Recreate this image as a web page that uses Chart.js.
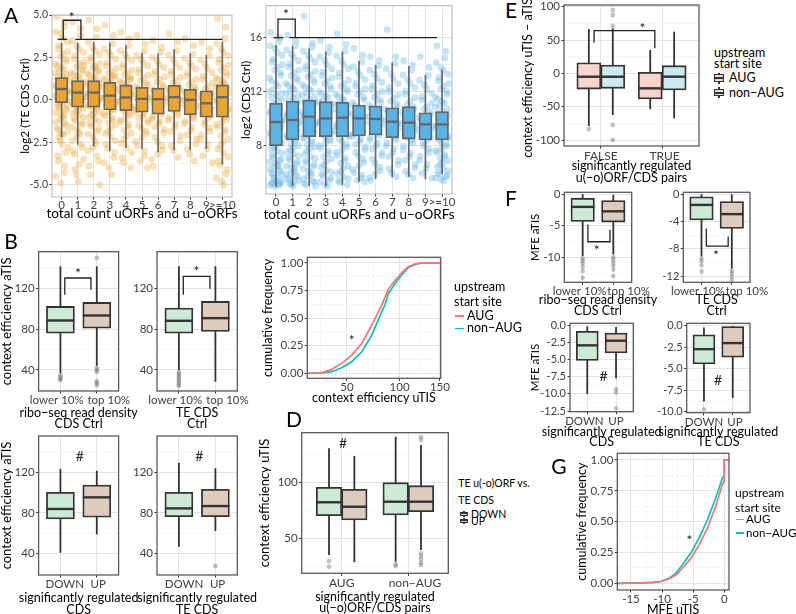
<!DOCTYPE html>
<html><head><meta charset="utf-8">
<script src="https://cdn.jsdelivr.net/npm/chart.js@4.4.1/dist/chart.umd.min.js"></script>
<style>
html,body{margin:0;padding:0;width:796px;height:614px;overflow:hidden;background:#fff;font-family:Lato,'Open Sans',sans-serif;}
canvas{position:absolute;}
.t{position:absolute;white-space:nowrap;color:#000;line-height:1;}
</style></head><body>
<script>
const FONT = "Lato, 'Open Sans', sans-serif";

// ---------------- data ----------------
const A_CATS = ['0','1','2','3','4','5','6','7','8','9','>=10'];
const A_TE_Q1  = [-0.16,-0.43,-0.43,-0.59,-0.64,-0.72,-0.84,-0.68,-0.88,-1.02,-1.02];
const A_TE_MED = [0.64,0.43,0.43,0.25,0.14,0.06,0.04,0.16,0.0,-0.2,0.16];
const A_TE_Q3  = [1.31,1.13,1.13,1.04,0.88,0.74,0.70,0.86,0.62,0.53,0.88];
const A_TE_LO  = [-2.19,-2.64,-2.73,-3.03,-2.83,-2.89,-3.09,-2.97,-2.97,-2.89,-3.81];
const A_TE_HI  = [3.36,3.36,3.42,3.36,3.22,2.77,2.73,2.99,2.73,2.64,3.42];
const A_CDS_Q1  = [8.0,8.42,8.67,8.67,8.67,8.72,8.79,8.59,8.49,8.42,8.42];
const A_CDS_MED = [9.75,9.9,10.15,10.02,10.07,10.02,9.98,9.78,9.70,9.58,9.58];
const A_CDS_Q3  = [11.14,11.31,11.38,11.26,11.21,11.01,10.94,10.81,10.89,10.44,10.52];
const A_CDS_LO  = [4.96,5.01,5.01,5.01,5.09,5.33,5.53,5.65,5.70,5.51,5.9];
const A_CDS_HI  = [15.46,15.38,15.21,14.96,14.96,14.27,13.98,14.15,13.90,13.23,13.60];
const JITTER  = [-0.31,0.17,-0.06,0.36,-0.22,0.08,0.28,-0.39,0.01,-0.15,0.32,-0.27,0.12,-0.1,0.23,-0.35,0.04,0.39,-0.19,0.25,-0.02,-0.29,0.15,0.34,-0.12,0.06,-0.24,0.3,-0.37,0.1,-0.08,0.2,-0.3,0.37,-0.17,0.03,0.26,-0.22,0.18,-0.04];
const JITTER2 = [0.22,-0.35,0.07,-0.18,0.38,-0.08,0.3,-0.26,0.14,-0.4,0.02,0.33,-0.13,0.2,-0.32,0.1,-0.21,0.36,-0.03,0.27,-0.38,0.16,-0.11,0.04,-0.28,0.35,-0.16,0.24,-0.05,0.12,-0.34,0.29,-0.2,0.08,-0.09,0.39,-0.25,0.19,-0.36,0.0];
const A_TE_CLOUD = [
 [4.9,4.3,3.9,3.4,3.0,2.7,2.4,2.1,1.9,1.7,1.5,1.35,1.2,1.05,0.9,0.8,0.7,0.6,0.5,0.4,0.3,0.2,0.1,0.0,-0.1,-0.25,-0.4,-0.55,-0.75,-0.95,-1.15,-1.4,-1.65,-1.9,-2.2,-2.6,-3.1,-3.6,-4.3,-4.9],
 [4.6,3.8,3.2,2.8,2.4,2.1,1.8,1.6,1.4,1.2,1.05,0.9,0.75,0.6,0.5,0.4,0.3,0.2,0.1,0.0,-0.1,-0.2,-0.35,-0.5,-0.7,-0.9,-1.1,-1.35,-1.6,-1.9,-2.2,-2.6,-3.0,-3.5,-4.1,-4.8],
 [4.7,3.7,3.1,2.7,2.3,2.0,1.75,1.55,1.35,1.15,1.0,0.85,0.7,0.55,0.45,0.35,0.25,0.15,0.05,-0.05,-0.2,-0.35,-0.5,-0.7,-0.9,-1.15,-1.4,-1.7,-2.0,-2.4,-2.8,-3.3,-3.9,-5.0],
 [4.4,3.3,2.8,2.4,2.0,1.7,1.45,1.25,1.05,0.85,0.7,0.55,0.4,0.3,0.2,0.1,0.0,-0.15,-0.3,-0.5,-0.7,-0.95,-1.2,-1.5,-1.85,-2.2,-2.6,-3.1,-3.7,-4.4],
 [4.0,3.2,2.7,2.3,1.9,1.6,1.35,1.1,0.9,0.7,0.55,0.4,0.25,0.15,0.05,-0.1,-0.25,-0.4,-0.6,-0.8,-1.05,-1.3,-1.6,-1.95,-2.3,-2.8,-3.4,-4.0],
 [3.8,2.9,2.4,2.0,1.6,1.3,1.0,0.8,0.6,0.4,0.2,0.05,-0.1,-0.3,-0.5,-0.7,-0.95,-1.2,-1.5,-1.85,-2.2,-2.7,-3.3,-4.0],
 [3.5,2.8,2.3,1.9,1.5,1.2,0.9,0.65,0.45,0.25,0.05,-0.15,-0.35,-0.6,-0.85,-1.1,-1.4,-1.75,-2.2,-2.7,-3.2,-3.9],
 [3.9,2.9,2.4,1.9,1.5,1.15,0.85,0.6,0.4,0.2,0.05,-0.15,-0.35,-0.6,-0.9,-1.2,-1.6,-2.1,-2.7,-3.4],
 [3.6,2.7,2.2,1.8,1.4,1.05,0.75,0.5,0.3,0.1,-0.1,-0.3,-0.55,-0.8,-1.1,-1.4,-1.8,-2.3,-2.9,-3.6],
 [3.4,2.6,2.1,1.6,1.2,0.8,0.5,0.25,0.0,-0.25,-0.5,-0.8,-1.1,-1.45,-1.85,-2.3,-2.9,-3.7],
 [4.8,3.6,3.0,2.6,2.2,1.9,1.6,1.3,1.1,0.9,0.7,0.5,0.35,0.2,0.05,-0.1,-0.3,-0.5,-0.75,-1.0,-1.3,-1.6,-1.9,-2.3,-2.7,-3.1,-3.6,-4.1,-4.6,-5.0]
];
const A_TE_CLOUD2 = [
 [4.6,4.0,3.6,3.2,2.85,2.55,2.25,2.0,1.8,1.6,1.42,1.28,1.12,0.98,0.85,0.75,0.65,0.55,0.45,0.35,0.25,0.15,0.05,-0.05,-0.18,-0.32,-0.48,-0.65,-0.85,-1.05,-1.28,-1.52,-1.78,-2.05,-2.4,-2.8,-3.3,-3.9,-4.5,-2.0],
 [4.2,3.5,3.0,2.6,2.25,1.95,1.7,1.5,1.3,1.12,0.98,0.82,0.68,0.55,0.45,0.35,0.25,0.15,0.05,-0.05,-0.15,-0.28,-0.42,-0.6,-0.8,-1.0,-1.22,-1.48,-1.75,-2.05,-2.4,-2.8,-3.2,-3.8,-4.4,2.0],
 [4.2,3.4,2.9,2.5,2.15,1.88,1.65,1.45,1.25,1.08,0.92,0.78,0.62,0.5,0.4,0.3,0.2,0.1,0.0,-0.12,-0.28,-0.42,-0.6,-0.8,-1.02,-1.28,-1.55,-1.85,-2.2,-2.6,-3.0,-3.6,-4.4,1.9],
 [3.8,3.0,2.6,2.2,1.85,1.58,1.35,1.15,0.95,0.78,0.62,0.48,0.35,0.25,0.15,0.05,-0.08,-0.22,-0.4,-0.6,-0.82,-1.08,-1.35,-1.68,-2.0,-2.4,-2.85,-3.4,-4.0,1.4],
 [3.6,2.9,2.5,2.1,1.75,1.48,1.22,1.0,0.8,0.62,0.48,0.32,0.2,0.1,0.0,-0.18,-0.32,-0.5,-0.7,-0.92,-1.18,-1.45,-1.78,-2.12,-2.55,-3.1,-3.7,1.2],
 [3.3,2.6,2.2,1.8,1.45,1.15,0.9,0.7,0.5,0.3,0.12,-0.02,-0.2,-0.4,-0.6,-0.82,-1.08,-1.35,-1.68,-2.0,-2.45,-3.0,-3.6,0.4],
 [3.1,2.5,2.1,1.7,1.35,1.05,0.78,0.55,0.35,0.15,-0.05,-0.25,-0.48,-0.72,-0.98,-1.25,-1.58,-1.95,-2.45,-2.95,-3.5,0.3],
 [3.4,2.65,2.15,1.7,1.32,1.0,0.72,0.5,0.3,0.12,-0.05,-0.25,-0.48,-0.75,-1.05,-1.4,-1.85,-2.4,-3.0,0.6],
 [3.2,2.45,2.0,1.6,1.22,0.9,0.62,0.4,0.2,0.0,-0.2,-0.42,-0.68,-0.95,-1.25,-1.6,-2.05,-2.6,-3.2,0.5],
 [3.0,2.35,1.85,1.4,1.0,0.65,0.38,0.12,-0.12,-0.38,-0.65,-0.95,-1.28,-1.65,-2.05,-2.6,-3.3,0.2],
 [4.3,3.3,2.8,2.4,2.05,1.75,1.45,1.2,1.0,0.8,0.6,0.42,0.28,0.12,-0.02,-0.2,-0.4,-0.62,-0.88,-1.15,-1.45,-1.75,-2.1,-2.5,-2.9,-3.35,-3.85,-4.35,-4.8,0.9]
];
const A_CDS_CLOUD = [
 [16.4,15.7,15.2,14.7,14.2,13.8,13.4,13.0,12.6,12.2,11.9,11.6,11.3,11.0,10.7,10.4,10.1,9.9,9.7,9.4,9.1,8.8,8.5,8.2,7.9,7.6,7.3,7.0,6.8,6.6,6.4,6.2,6.0,5.8,5.6,5.4,5.3,5.2,5.1,5.0],
 [16.2,15.4,14.8,14.3,13.8,13.4,13.0,12.6,12.3,12.0,11.7,11.4,11.1,10.8,10.5,10.2,10.0,9.8,9.5,9.2,8.9,8.6,8.3,8.0,7.7,7.4,7.1,6.8,6.5,6.3,6.0,5.8,5.6,5.4,5.2,5.0],
 [17.6,15.3,14.7,14.2,13.7,13.3,12.9,12.5,12.2,11.9,11.6,11.3,11.0,10.7,10.4,10.2,10.0,9.7,9.4,9.1,8.8,8.5,8.2,7.9,7.6,7.2,6.9,6.6,6.3,6.0,5.7,5.4,5.2,5.0],
 [15.8,14.9,14.3,13.7,13.2,12.8,12.4,12.0,11.7,11.4,11.1,10.8,10.5,10.2,10.0,9.7,9.4,9.1,8.8,8.5,8.2,7.8,7.4,7.0,6.6,6.2,5.9,5.6,5.3,5.0],
 [16.3,15.0,14.3,13.7,13.1,12.6,12.2,11.8,11.5,11.2,10.9,10.6,10.3,10.0,9.7,9.4,9.1,8.8,8.5,8.1,7.7,7.3,6.9,6.5,6.1,5.7,5.4,5.1],
 [15.2,14.2,13.5,12.9,12.4,12.0,11.6,11.2,10.8,10.5,10.2,9.9,9.6,9.3,9.0,8.7,8.3,7.9,7.5,7.0,6.5,6.0,5.6,5.3],
 [14.6,13.9,13.3,12.7,12.2,11.8,11.4,11.0,10.6,10.3,10.0,9.7,9.4,9.1,8.8,8.4,8.0,7.5,7.0,6.4,5.9,5.4],
 [16.6,14.1,13.3,12.6,12.0,11.5,11.1,10.7,10.3,10.0,9.7,9.4,9.1,8.8,8.4,8.0,7.5,6.9,6.3,5.7],
 [14.3,13.6,12.9,12.3,11.8,11.3,10.9,10.5,10.1,9.8,9.5,9.2,8.9,8.6,8.2,7.7,7.2,6.6,6.1,5.6],
 [14.6,13.2,12.5,11.9,11.4,10.9,10.5,10.1,9.7,9.4,9.1,8.8,8.4,8.0,7.5,6.9,6.3,5.6],
 [15.4,14.5,13.8,13.3,12.8,12.4,12.0,11.6,11.3,11.0,10.7,10.4,10.1,9.8,9.6,9.3,9.0,8.7,8.4,8.1,7.8,7.5,7.2,6.9,6.6,6.3,6.0,5.8,5.6,5.4]
];
const A_CDS_CLOUD2 = [
 [16.0,15.4,14.9,14.4,14.0,13.6,13.2,12.8,12.4,12.0,11.75,11.45,11.15,10.85,10.55,10.25,10.0,9.8,9.55,9.25,8.95,8.65,8.35,8.05,7.75,7.45,7.15,6.9,6.7,6.5,6.3,6.1,5.9,5.7,5.5,5.35,5.25,5.15,5.05,9.0],
 [15.8,15.1,14.55,14.05,13.6,13.2,12.8,12.45,12.15,11.85,11.55,11.25,10.95,10.65,10.35,10.1,9.9,9.65,9.35,9.05,8.75,8.45,8.15,7.85,7.55,7.25,6.95,6.65,6.4,6.15,5.9,5.7,5.5,5.3,5.1,10.5],
 [15.6,15.0,14.45,13.95,13.5,13.1,12.7,12.35,12.05,11.75,11.45,11.15,10.85,10.55,10.3,10.1,9.85,9.55,9.25,8.95,8.65,8.35,8.05,7.75,7.4,7.05,6.75,6.45,6.15,5.85,5.55,5.3,5.1,10.6],
 [15.3,14.6,14.0,13.45,13.0,12.6,12.2,11.85,11.55,11.25,10.95,10.65,10.35,10.1,9.85,9.55,9.25,8.95,8.65,8.35,8.0,7.6,7.2,6.8,6.4,6.05,5.75,5.45,5.15,10.4],
 [15.5,14.65,14.0,13.4,12.85,12.4,12.0,11.65,11.35,11.05,10.75,10.45,10.15,9.85,9.55,9.25,8.95,8.65,8.3,7.9,7.5,7.1,6.7,6.3,5.9,5.55,5.25,10.3],
 [14.7,13.85,13.2,12.65,12.2,11.8,11.4,11.0,10.65,10.35,10.05,9.75,9.45,9.15,8.85,8.5,8.1,7.7,7.25,6.75,6.25,5.8,5.45,10.1],
 [14.3,13.6,13.0,12.45,12.0,11.6,11.2,10.8,10.45,10.15,9.85,9.55,9.25,8.95,8.6,8.2,7.75,7.25,6.7,6.15,5.65,10.2],
 [14.6,13.7,12.95,12.3,11.75,11.3,10.9,10.5,10.15,9.85,9.55,9.25,8.95,8.6,8.2,7.75,7.2,6.6,6.0,9.6],
 [14.0,13.25,12.6,12.05,11.55,11.1,10.7,10.3,9.95,9.65,9.35,9.05,8.75,8.4,7.95,7.45,6.9,6.35,5.85,9.7],
 [13.8,12.85,12.2,11.65,11.15,10.7,10.3,9.9,9.55,9.25,8.95,8.6,8.2,7.75,7.2,6.6,5.95,9.5],
 [15.0,14.15,13.55,13.05,12.6,12.2,11.8,11.45,11.15,10.85,10.55,10.25,9.95,9.7,9.45,9.15,8.85,8.55,8.25,7.95,7.65,7.35,7.05,6.75,6.45,6.15,5.9,5.7,5.5,9.9]
];

const B_TOP_CATS = ['lower 10%','top 10%'];
const B_BOT_CATS = ['DOWN','UP'];
const B1_Q1 = [76.1,81.0], B1_MED = [88.5,93.4], B1_Q3 = [102.3,106.2], B1_LO = [36.8,44.0], B1_HI = [141.6,141.6];
const B1_OUT = [[35,33,31,30],[150,42,40,38,29,27,25]];
const B2_Q1 = [76.1,77.7], B2_MED = [88.2,90.8], B2_Q3 = [100.7,107.2], B2_LO = [40.0,28.5], B2_HI = [141.6,141.6];
const B2_OUT = [[38,36,34,32,30,28,26,24],[]];
const B3_Q1 = [73.9,75.6], B3_MED = [83.8,95.3], B3_Q3 = [100.2,107.5], B3_LO = [40.6,58.8], B3_HI = [123.3,121.6];
const B3_OUT = [[],[]];
const B4_Q1 = [76.2,76.2], B4_MED = [84.4,86.7], B4_Q3 = [100.2,103.2], B4_LO = [46.5,62.0], B4_HI = [129.5,124.0];
const B4_OUT = [[],[27.5]];

const C_SERIES = ['AUG','non−AUG'];
const C_X   = [23,32,38.7,45.9,53.8,62.3,71.4,81.1,84.4,87.8,94.9,102.3,109.9,117.9,126.1,151];
const C_AUG = [0,0.005,0.036,0.09,0.165,0.27,0.437,0.617,0.69,0.76,0.84,0.91,0.964,0.988,1,1];
const C_NON = [0,0.003,0.015,0.05,0.105,0.195,0.346,0.557,0.62,0.72,0.81,0.89,0.955,0.985,1,1];

const D_CATS = ['AUG','non−AUG'];
const D_GROUPS = ['DOWN','UP'];
const D_DOWN_Q1 = [70.4,71.0], D_DOWN_MED = [82.4,82.9], D_DOWN_Q3 = [95.9,100.0], D_DOWN_LO = [35.0,29.0], D_DOWN_HI = [130.9,141.3];
const D_UP_Q1 = [66.5,74.0], D_UP_MED = [78.4,82.9], D_UP_Q3 = [94.1,97.3], D_UP_LO = [28.5,39.5], D_UP_HI = [124.0,133.9];
const D_DOWN_OUT = [[29.6,24.5],[27,25]];
const D_UP_OUT = [[],[141,138.5,36.5,34,31,28,26]];

const E_CATS = ['FALSE','TRUE'];
const E_GROUPS = ['AUG','non−AUG'];
const E_AUG_Q1 = [-23.6,-38.5], E_AUG_MED = [-5.1,-22.5], E_AUG_Q3 = [15.9,1.5], E_AUG_LO = [-79,-54], E_AUG_HI = [66.5,35];
const E_NON_Q1 = [-22.5,-25], E_NON_MED = [-5.1,-5], E_NON_Q3 = [12.5,11.5], E_NON_LO = [-62.5,-67.5], E_NON_HI = [67.5,62.5];
const E_AUG_OUT = [[-83.5],[]];
const E_NON_OUT = [[95,87.5,71,-77.5,-100],[]];

const F1_Q1 = [-4.3,-4.4], F1_MED = [-2.0,-2.7], F1_Q3 = [-0.63,-1.0], F1_LO = [-9.75,-9.5], F1_HI = [0,-0.1];
const F1_OUT = [[-10.1,-10.5,-10.9,-11.4,-12.1,-13.2],[-9.9,-10.3,-10.8,-11.3,-11.9,-12.9]];
const F2_Q1 = [-3.75,-5.0], F2_MED = [-1.55,-2.9], F2_Q3 = [-0.35,-1.05], F2_LO = [-9.1,-10.9], F2_HI = [0,0];
const F2_OUT = [[-9.4,-9.8,-10.4,-11.3],[-11.2,-11.6,-12.1,-12.6]];
const F3_Q1 = [-5.1,-3.99], F3_MED = [-2.88,-2.2], F3_Q3 = [-0.83,-1.07], F3_LO = [-10.0,-7.7], F3_HI = [-0.1,-0.2];
const F3_OUT = [[],[-9.3,-9.8,-12.1]];
const F4_Q1 = [-4.42,-3.65], F4_MED = [-2.71,-2.0], F4_Q3 = [-1.05,-0.08], F4_LO = [-8.8,-8.4], F4_HI = [-0.2,0];
const F4_OUT = [[-9.7],[]];

const G_X   = [-17.2,-13.1,-11.5,-10.2,-8.9,-7.8,-6.75,-5.4,-4.07,-2.73,-1.39,-0.32,0,0,0.76];
const G_AUG = [0,0.003,0.008,0.015,0.035,0.067,0.12,0.2,0.31,0.446,0.62,0.80,0.83,1,1];
const G_NON = [0,0.003,0.008,0.015,0.04,0.08,0.148,0.243,0.365,0.513,0.69,0.85,0.875,1,1];

// tick label lists
const A_TE_YT = [-5,-2.5,0,2.5,5], A_TE_YM = [-3.75,-1.25,1.25,3.75];
const A_CDS_YT = [8,12,16], A_CDS_YM = [6,10,14,18];
const B_YT = [40,80,120], B_YM = [20,60,100,140];
const CUM_YT = [0,0.25,0.5,0.75,1], CUM_YM = [0.125,0.375,0.625,0.875];
const C_XT = [50,100,150];
const D_YT = [50,100], D_YM = [25,75,125];
const E_YT = [-100,-50,0,50,100], E_YM = [-75,-25,25,75];
const F1_YT = [0,-5,-10], F1_YM = [-2.5,-7.5,-12.5];
const F2_YT = [0,-4,-8,-12], F2_YM = [-2,-6,-10];
const F3_YT = [0,-2.5,-5,-7.5,-10,-12.5], F3_YM = [-1.25,-3.75,-6.25,-8.75,-11.25];
const F4_YT = [0,-2.5,-5,-7.5,-10], F4_YM = [-1.25,-3.75,-6.25,-8.75];
const G_XT = [-15,-10,-5,0], G_XM = [-12.5,-7.5,-2.5];

// ---------------- colours ----------------
const GREEN = '#CDEAD6', TAN = '#DDCBBD', PINK = '#F9D4CC', CYAN = '#CDEBEE';
const RED = '#F8766D', TEAL = '#00BFC4';
const OUTC = 'rgba(95,95,95,0.38)';

// ---------------- helpers ----------------
function ticksOf(major, minor, fmt) {
  const a = major.map(v => ({value: v, txt: fmt(v), major: true}));
  const b = (minor || []).map(v => ({value: v, txt: '', major: false}));
  return a.concat(b).sort((p, q) => p.value - q.value);
}
// category ticks: grid/tick marks at category centres; labels optionally placed at given positions
function catTicks(cats, pos) {
  if (!pos) return cats.map((c, i) => ({value: i, txt: c, major: true}));
  const g = cats.map((c, i) => ({value: i, txt: '', major: true}));
  const l = cats.map((c, i) => ({value: pos[i], txt: c, lab: true}));
  return g.concat(l).sort((p, q) => p.value - q.value);
}
// square-root axis (as in panel C)
function sqrtTicks(major, fmt) {
  const b = major.map(Math.sqrt), bd = b[1] - b[0];
  const ext = [b[0] - bd].concat(b);
  const minors = [];
  for (let i = 0; i < ext.length - 1; i++) minors.push((ext[i] + ext[i + 1]) / 2);
  return b.map((v, i) => ({value: v, txt: fmt(major[i]), major: true}))
    .concat(minors.map(v => ({value: v, txt: '', major: false}))).sort((p, q) => p.value - q.value);
}
const f0 = v => String(v), f1 = v => v.toFixed(1), f2 = v => v.toFixed(2);

function boxDS(xs, q1, med, q3, lo, hi, fill, stroke, bw, thick, ww) {
  return {type: 'bar', data: xs.map((x, i) => ({x: x, y: [q1[i], q3[i]]})),
    backgroundColor: fill, borderColor: stroke, borderWidth: bw, borderSkipped: false,
    barThickness: thick, grouped: false, medians: med, whiskerLo: lo, whiskerHi: hi,
    whiskerWidth: ww, medianWidth: bw + 0.6, order: 2};
}
function outDS(xs, lists, color, r) {
  const pts = [];
  lists.forEach((arr, i) => arr.forEach(v => pts.push({x: xs[i], y: v})));
  return {type: 'scatter', data: pts, backgroundColor: color, borderWidth: 0, pointRadius: r, pointHoverRadius: r, order: 1};
}
function cloudDS(lists, jit, color, r) {
  const pts = [];
  lists.forEach((arr, i) => arr.forEach((v, j) => pts.push({x: i + jit[j % jit.length], y: v})));
  return {type: 'scatter', data: pts, backgroundColor: color, borderWidth: 0, pointRadius: r, pointHoverRadius: r, order: 5};
}
function lineDS(xs, ys, color, tx) {
  const t = tx || (v => v);
  return {type: 'scatter', showLine: true, data: xs.map((x, i) => ({x: t(x), y: ys[i]})), borderColor: color, backgroundColor: color, borderWidth: 1.7, pointRadius: 0, tension: 0, order: 1};
}

function panel(o) {
  const [x0, y0, x1, y1] = o.rect; const [cl, ct, cr, cb] = o.cbox;
  const W = Math.round(cr - cl), H = Math.round(cb - ct);
  const cv = document.createElement('canvas');
  cv.width = W; cv.height = H; cv.style.left = cl + 'px'; cv.style.top = ct + 'px';
  document.body.appendChild(cv);
  const isMinor = c => c.tick && c.tick.major === false;
  const isLab = c => c.tick && c.tick.lab;
  const mkScale = (ax, isX) => ({
    type: 'linear', min: ax.min, max: ax.max, offset: false, position: isX ? 'bottom' : 'left',
    afterBuildTicks: s => { s.ticks = ax.ticks.map(t => Object.assign({}, t)); },
    afterFit: s => {
      if (isX) { s.height = cb - y1; s.paddingLeft = 0; s.paddingRight = 0; }
      else { s.width = x0 - cl; s.paddingTop = 0; s.paddingBottom = 0; }
    },
    border: {display: false},
    grid: {offset: false, drawTicks: true, tickLength: 2.5, tickWidth: 1,
      color: c => isLab(c) ? 'rgba(0,0,0,0)' : (isMinor(c) ? '#f3f3f3' : '#e4e4e4'),
      lineWidth: c => isMinor(c) ? 0.7 : 1,
      tickColor: c => (isMinor(c) || isLab(c)) ? 'rgba(0,0,0,0)' : '#333'},
    ticks: {autoSkip: false, maxRotation: 0, minRotation: 0, padding: ax.pad != null ? ax.pad : 1.5,
      color: '#404040', font: {family: FONT, size: ax.size || 11},
      callback: (v, i, t) => (t[i] && t[i].txt) || ''},
    title: {display: false}
  });
  const plug = {
    id: 'deco',
    beforeDatasetDraw(chart, args) {
      const ds = chart.data.datasets[args.index];
      if (!ds.whiskerLo) return;
      const ctx = chart.ctx, ys = chart.scales.y;
      ctx.save(); ctx.strokeStyle = ds.borderColor; ctx.lineWidth = ds.whiskerWidth;
      args.meta.data.forEach((el, i) => {
        ctx.beginPath();
        ctx.moveTo(el.x, ys.getPixelForValue(ds.whiskerHi[i]));
        ctx.lineTo(el.x, ys.getPixelForValue(ds.whiskerLo[i]));
        ctx.stroke();
      });
      ctx.restore();
    },
    afterDatasetDraw(chart, args) {
      const ds = chart.data.datasets[args.index];
      if (!ds.medians) return;
      const ctx = chart.ctx, ys = chart.scales.y;
      ctx.save(); ctx.strokeStyle = ds.borderColor; ctx.lineWidth = ds.medianWidth;
      args.meta.data.forEach((el, i) => {
        const py = ys.getPixelForValue(ds.medians[i]);
        ctx.beginPath(); ctx.moveTo(el.x - el.width / 2, py); ctx.lineTo(el.x + el.width / 2, py); ctx.stroke();
      });
      ctx.restore();
    },
    afterDraw(chart) {
      const ctx = chart.ctx, a = chart.chartArea, xs = chart.scales.x, ys = chart.scales.y;
      ctx.save();
      ctx.strokeStyle = o.borderColor || '#5a5a5a'; ctx.lineWidth = o.borderWidth || 1.3;
      ctx.strokeRect(a.left, a.top, a.right - a.left, a.bottom - a.top);
      (o.lines || []).forEach(L => {
        ctx.beginPath();
        L.forEach((p, i) => { const px = xs.getPixelForValue(p[0]), py = ys.getPixelForValue(p[1]); if (i) ctx.lineTo(px, py); else ctx.moveTo(px, py); });
        ctx.strokeStyle = '#222'; ctx.lineWidth = 1.3; ctx.stroke();
      });
      (o.marks || []).forEach(m => {
        ctx.font = (m.size || 14) + 'px ' + FONT; ctx.fillStyle = '#222'; ctx.textAlign = 'center'; ctx.textBaseline = 'middle';
        ctx.fillText(m.s, xs.getPixelForValue(m.x), ys.getPixelForValue(m.y));
      });
      ctx.fillStyle = '#000'; ctx.textAlign = 'center'; ctx.textBaseline = 'middle';
      if (o.xTitle) {
        ctx.font = o.xTitle.size + 'px ' + FONT;
        o.xTitle.lines.forEach((s, i) => ctx.fillText(s, (a.left + a.right) / 2, o.xTitle.ys[i] - ct));
      }
      if (o.yTitle) {
        ctx.font = o.yTitle.size + 'px ' + FONT;
        ctx.translate(o.yTitle.x - cl, (o.yTitle.cy != null ? o.yTitle.cy - ct : (a.top + a.bottom) / 2));
        ctx.rotate(-Math.PI / 2);
        ctx.fillText(o.yTitle.text, 0, 0);
      }
      ctx.restore();
    }
  };
  return new Chart(cv, {
    type: o.type || 'bar',
    data: {datasets: o.datasets},
    options: {
      responsive: false, animation: false, devicePixelRatio: 1, events: [],
      layout: {padding: {left: 0, bottom: 0, top: y0 - ct, right: W - (x1 - cl)}},
      plugins: {legend: {display: false}, tooltip: {enabled: false}},
      scales: {x: mkScale(o.x, true), y: mkScale(o.y, false)}
    },
    plugins: [plug]
  });
}

function addText(txt, x, y, size, center) {
  const d = document.createElement('div');
  d.className = 't'; d.textContent = txt; d.style.fontSize = size + 'px';
  d.style.left = x + 'px'; d.style.top = y + 'px';
  d.style.transform = center ? 'translate(-50%,-50%)' : 'translate(0,-50%)';
  document.body.appendChild(d);
}
function lineKey(x, y, w, color) {
  const d = document.createElement('div');
  d.style.cssText = `position:absolute;left:${x}px;top:${y - 0.8}px;width:${w}px;height:1.7px;background:${color};`;
  document.body.appendChild(d);
}
function boxKey(x, y, w, h, fill, lw) {
  const b = lw || 1.5;
  const wrap = document.createElement('div');
  wrap.style.cssText = `position:absolute;left:${x}px;top:${y}px;width:${w}px;height:${h}px;`;
  const wh = document.createElement('div');
  wh.style.cssText = `position:absolute;left:${w / 2 - b / 2}px;top:0;width:${b}px;height:${h}px;background:#333;`;
  const bx = document.createElement('div');
  bx.style.cssText = `position:absolute;left:0;top:${h * 0.18}px;width:${w}px;height:${h * 0.64}px;box-sizing:border-box;border:${b}px solid #333;background:${fill};`;
  const md = document.createElement('div');
  md.style.cssText = `position:absolute;left:0;top:${h / 2 - b / 2}px;width:${w}px;height:${b}px;background:#333;`;
  wrap.append(wh, bx, md); document.body.appendChild(wrap);
}

// ---------------- panel A ----------------
const AX = A_CATS.map((c, i) => i);
panel({rect: [52, 15, 232, 197], cbox: [0, 4, 240, 225], borderColor: '#b5b5b5', borderWidth: 1,
  x: {min: -0.6, max: 10.6, ticks: catTicks(A_CATS), size: 11.5, pad: -1},
  y: {min: -5.72, max: 5.0, ticks: ticksOf(A_TE_YT, A_TE_YM, f1), size: 10.5},
  datasets: [cloudDS(A_TE_CLOUD, JITTER, 'rgba(236,163,40,0.34)', 3.4), cloudDS(A_TE_CLOUD2, JITTER2, 'rgba(236,163,40,0.34)', 3.4),
    boxDS(AX, A_TE_Q1, A_TE_MED, A_TE_Q3, A_TE_LO, A_TE_HI, '#EBA52F', '#686868', 1.8, 12.5, 1.7)],
  lines: [[[-0.25, 3.57], [0.35, 3.57]], [[0.85, 3.57], [10, 3.57]], [[0.1, 3.57], [0.1, 4.69], [1.2, 4.69], [1.2, 3.57]]],
  marks: [{s: '*', x: 0.62, y: 4.85, size: 14}],
  xTitle: {lines: ['total count uORFs and u−oORFs'], ys: [213.8], size: 13.5},
  yTitle: {text: 'log2 (TE CDS Ctrl)', x: 25, size: 12}
});
panel({rect: [266, 5.7, 452, 194], cbox: [236, 0, 470, 225], borderColor: '#b5b5b5', borderWidth: 1,
  x: {min: -0.6, max: 10.6, ticks: catTicks(A_CATS), size: 11.5, pad: -1},
  y: {min: 4.42, max: 18.37, ticks: ticksOf(A_CDS_YT, A_CDS_YM, f0), size: 10.5},
  datasets: [cloudDS(A_CDS_CLOUD, JITTER, 'rgba(86,180,233,0.34)', 3.4), cloudDS(A_CDS_CLOUD2, JITTER2, 'rgba(86,180,233,0.34)', 3.4),
    boxDS(AX, A_CDS_Q1, A_CDS_MED, A_CDS_Q3, A_CDS_LO, A_CDS_HI, '#58B3E6', '#686868', 1.8, 13, 1.7)],
  lines: [[[-0.15, 16], [0.45, 16]], [[0.8, 16], [9.7, 16]], [[0.12, 16], [0.12, 17.38], [1.16, 17.38], [1.16, 16]]],
  marks: [{s: '*', x: 0.6, y: 17.7, size: 14}],
  xTitle: {lines: ['total count uORFs and u−oORFs'], ys: [214.5], size: 13.5},
  yTitle: {text: 'log2 (CDS Ctrl)', x: 246, size: 12}
});

// ---------------- panel B ----------------
function bPanel(rect, cbox, cats, pos, q1, med, q3, lo, hi, outs, ymin, ymax, xTitle, tys, yTitle, extra) {
  return panel(Object.assign({rect: rect, cbox: cbox,
    x: {min: -0.6, max: 1.6, ticks: catTicks(cats, pos), size: 11.5, pad: 0},
    y: {min: ymin, max: ymax, ticks: ticksOf(B_YT, B_YM, f0), size: 11.5},
    datasets: [boxDS([0, 1], q1, med, q3, lo, hi, [GREEN, TAN], '#333', 1.8, 28, 1.8), outDS([0, 1], outs, OUTC, 2.4)],
    xTitle: {lines: xTitle, ys: tys, size: 12.5},
    yTitle: yTitle ? {text: yTitle, x: 7, size: 13} : null}, extra));
}
bPanel([38.6, 251.7, 118.6, 391], [0, 244, 142, 432], B_TOP_CATS, [-0.1, 1.33], B1_Q1, B1_MED, B1_Q3, B1_LO, B1_HI, B1_OUT, 19.3, 156,
  ['ribo−seq read density', 'CDS Ctrl'], [412.7, 424], 'context efficiency aTIS',
  {lines: [[[0.12, 113.8], [0.12, 130.2], [0.84, 130.2], [0.84, 118.7]]], marks: [{s: '*', x: 0.48, y: 135, size: 14}]});
bPanel([157, 251.7, 237.3, 391], [120, 244, 258, 432], B_TOP_CATS, [-0.1, 1.33], B2_Q1, B2_MED, B2_Q3, B2_LO, B2_HI, B2_OUT, 19.3, 156,
  ['TE CDS', 'Ctrl'], [412.7, 424], null,
  {lines: [[[0.12, 113.8], [0.12, 131.8], [0.85, 131.8], [0.85, 119.7]]], marks: [{s: '*', x: 0.48, y: 136.5, size: 14}]});
bPanel([38.6, 436, 118.6, 575], [0, 430, 150, 614], B_BOT_CATS, [0.12, 1.04], B3_Q1, B3_MED, B3_Q3, B3_LO, B3_HI, B3_OUT, 18.6, 155.9,
  ['significantly regulated', 'CDS'], [597.7, 610], 'context efficiency aTIS',
  {marks: [{s: '#', x: 0.53, y: 135.4, size: 14}]});
bPanel([157, 436, 237.3, 575], [120, 430, 262, 614], B_BOT_CATS, [0.14, 1.06], B4_Q1, B4_MED, B4_Q3, B4_LO, B4_HI, B4_OUT, 18.6, 155.9,
  ['significantly regulated', 'TE CDS'], [597.7, 610], null,
  {marks: [{s: '#', x: 0.56, y: 136, size: 14}]});

// ---------------- panel C (square-root x axis) ----------------
panel({type: 'scatter', rect: [307.3, 257.3, 440.7, 378.3], cbox: [255, 250, 452, 410],
  x: {min: 4.86, max: 12.29, ticks: sqrtTicks(C_XT, f0), size: 11.5, pad: 0},
  y: {min: -0.045, max: 1.05, ticks: ticksOf(CUM_YT, CUM_YM, f2), size: 11.5},
  datasets: [lineDS(C_X, C_AUG, RED, Math.sqrt), lineDS(C_X, C_NON, TEAL, Math.sqrt)],
  marks: [{s: '*', x: Math.sqrt(53.8), y: 0.3, size: 14}],
  xTitle: {lines: ['context efficiency uTIS'], ys: [398.3], size: 12.5},
  yTitle: {text: 'cumulative frequency', x: 268, size: 12.5}
});

// ---------------- panel D ----------------
panel({rect: [301.7, 432.7, 448.3, 573.3], cbox: [255, 425, 455, 614],
  x: {min: -0.6, max: 1.6, ticks: catTicks(D_CATS, [0, 1.1]), size: 12, pad: 0},
  y: {min: 18.6, max: 144.9, ticks: ticksOf(D_YT, D_YM, f0), size: 11.5},
  datasets: [boxDS([-0.19, 0.81], D_DOWN_Q1, D_DOWN_MED, D_DOWN_Q3, D_DOWN_LO, D_DOWN_HI, GREEN, '#333', 1.8, 25.5, 1.8),
    boxDS([0.19, 1.19], D_UP_Q1, D_UP_MED, D_UP_Q3, D_UP_LO, D_UP_HI, TAN, '#333', 1.8, 25.5, 1.8),
    outDS([-0.19, 0.81], D_DOWN_OUT, OUTC, 2.4), outDS([0.19, 1.19], D_UP_OUT, OUTC, 2.4)],
  marks: [{s: '#', x: 0.02, y: 135.4, size: 14}],
  xTitle: {lines: ['significantly regulated', 'u(−o)ORF/CDS pairs'], ys: [596.7, 607.6], size: 12.5},
  yTitle: {text: 'context efficiency uTIS', x: 265, size: 13}
});

// ---------------- panel E ----------------
panel({rect: [564, 5, 699, 146], cbox: [518, 0, 705, 188],
  x: {min: -0.6, max: 1.6, ticks: catTicks(E_CATS, [0, 1.04]), size: 12, pad: 0},
  y: {min: -109, max: 102.5, ticks: ticksOf(E_YT, E_YM, f0), size: 11.5},
  datasets: [boxDS([-0.195, 0.805], E_AUG_Q1, E_AUG_MED, E_AUG_Q3, E_AUG_LO, E_AUG_HI, PINK, '#333', 1.8, 24, 1.8),
    boxDS([0.195, 1.195], E_NON_Q1, E_NON_MED, E_NON_Q3, E_NON_LO, E_NON_HI, CYAN, '#333', 1.8, 24, 1.8),
    outDS([-0.195, 0.805], E_AUG_OUT, OUTC, 2.4), outDS([0.195, 1.195], E_NON_OUT, OUTC, 2.4)],
  lines: [[[-0.11, 46], [-0.11, 64], [0.88, 64], [0.88, 37.5]]],
  marks: [{s: '*', x: 0.68, y: 68, size: 14}],
  xTitle: {lines: ['significantly regulated', 'u(−o)ORF/CDS pairs'], ys: [165.7, 178.3], size: 12.5},
  yTitle: {text: 'context efficiency uTIS − aTIS', x: 528.3, size: 12.5, cy: 78}
});

// ---------------- panel F ----------------
function fPanel(rect, cbox, cats, pos, q1, med, q3, lo, hi, outs, ymin, ymax, yt, ym, fmt, xTitle, tys, yTitle, thick, extra) {
  return panel(Object.assign({rect: rect, cbox: cbox,
    x: {min: -0.6, max: 1.6, ticks: catTicks(cats, pos), size: 11.5, pad: 0},
    y: {min: ymin, max: ymax, ticks: ticksOf(yt, ym, fmt), size: 11},
    datasets: [boxDS([0, 1], q1, med, q3, lo, hi, [GREEN, TAN], '#333', 1.8, thick, 1.8), outDS([0, 1], outs, OUTC, 2.3)],
    xTitle: {lines: xTitle, ys: tys, size: 12.5},
    yTitle: yTitle ? {text: yTitle, x: 535, size: 11.5} : null}, extra));
}
fPanel([564.3, 192.3, 631.7, 282.3], [525, 186, 665, 318], B_TOP_CATS, [-0.1, 1.5], F1_Q1, F1_MED, F1_Q3, F1_LO, F1_HI, F1_OUT, -13.9, 0.3, F1_YT, F1_YM, f0,
  ['ribo−seq read density', 'CDS Ctrl'], [300, 311], 'MFE aTIS', 23.5,
  {lines: [[[0.17, -4.8], [0.17, -7.5], [0.89, -7.5], [0.89, -5.6]]], marks: [{s: '*', x: 0.46, y: -8.9, size: 14}]});
fPanel([683.3, 192.3, 750, 282.3], [640, 186, 785, 318], B_TOP_CATS, [-0.12, 1.5], F2_Q1, F2_MED, F2_Q3, F2_LO, F2_HI, F2_OUT, -12.9, 0.3, F2_YT, F2_YM, f0,
  ['TE CDS', 'Ctrl'], [300, 311], null, 23.5,
  {lines: [[[0.16, -5.0], [0.16, -7.6], [0.88, -7.6], [0.88, -6.2]]], marks: [{s: '*', x: 0.48, y: -8.9, size: 14}]});
fPanel([570, 323.3, 633.3, 411.7], [525, 318, 668, 448], B_BOT_CATS, [-0.1, 1.0], F3_Q1, F3_MED, F3_Q3, F3_LO, F3_HI, F3_OUT, -12.6, 0.35, F3_YT, F3_YM, f1,
  ['significantly regulated', 'CDS'], [431.7, 441.7], 'MFE aTIS', 22,
  {marks: [{s: '#', x: 0.57, y: -7.4, size: 14}]});
fPanel([686.7, 323.3, 750, 412.7], [640, 318, 785, 448], B_BOT_CATS, [0.0, 1.08], F4_Q1, F4_MED, F4_Q3, F4_LO, F4_HI, F4_OUT, -10.1, 0.3, F4_YT, F4_YM, f1,
  ['significantly regulated', 'TE CDS'], [431.7, 441.7], null, 22,
  {marks: [{s: '#', x: 0.49, y: -6.3, size: 14}]});

// ---------------- panel G ----------------
panel({type: 'scatter', rect: [617.3, 453.3, 729, 590], cbox: [570, 448, 735, 614],
  x: {min: -17.2, max: 0.76, ticks: ticksOf(G_XT, G_XM, f0), size: 11.5, pad: 0},
  y: {min: -0.054, max: 1.054, ticks: ticksOf(CUM_YT, CUM_YM, f2), size: 11.5},
  datasets: [lineDS(G_X, G_AUG, RED), lineDS(G_X, G_NON, TEAL)],
  marks: [{s: '*', x: -5.6, y: 0.35, size: 14}],
  xTitle: {lines: ['MFE uTIS'], ys: [609.5], size: 12.5},
  yTitle: {text: 'cumulative frequency', x: 581.7, size: 12.5}
});

// ---------------- legends & panel letters ----------------
addText('upstream', 454, 287.3, 12.5); addText('start site', 454, 301.7, 12.5);
lineKey(455, 315.7, 9, RED); addText(C_SERIES[0], 467, 315.7, 12.5);
lineKey(455, 328.3, 9, TEAL); addText(C_SERIES[1], 467, 328.3, 12.5);

addText('TE u(-o)ORF vs.', 458.3, 482.7, 10.5); addText('TE CDS', 458.3, 499.5, 10.5);
boxKey(460, 510.5, 8, 6.5, GREEN, 1.1); addText(D_GROUPS[0], 471, 513.8, 10.5);
boxKey(460, 517.7, 8, 6.5, TAN, 1.1); addText(D_GROUPS[1], 471, 521.2, 10.5);

addText('upstream', 714, 53.3, 12.5); addText('start site', 714, 63.5, 12.5);
boxKey(714, 72.5, 9.5, 11, PINK); addText(E_GROUPS[0], 729, 77.7, 12.5);
boxKey(714, 87.3, 9.5, 11, CYAN); addText(E_GROUPS[1], 729, 92.7, 12.5);

addText('upstream', 735, 492.7, 12); addText('start site', 735, 507.7, 12);
lineKey(735.5, 519.3, 8.5, RED); addText(C_SERIES[0], 746, 519.3, 11.5);
lineKey(735.5, 532.7, 8.5, TEAL); addText(C_SERIES[1], 746, 532.7, 11.5);

[['A', 11, 13.5], ['B', 11, 240], ['C', 292.5, 230.5], ['D', 294, 418], ['E', 511, 9], ['F', 511, 197], ['G', 559, 465]]
  .forEach(p => addText(p[0], p[1], p[2], 21, true));
</script>
</body></html>
